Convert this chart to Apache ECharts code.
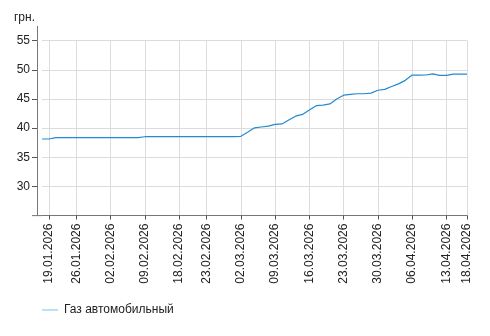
<!DOCTYPE html>
<html><head><meta charset="utf-8">
<script src="https://cdn.jsdelivr.net/npm/echarts@6/dist/echarts.min.js"></script>
<style>html,body{margin:0;padding:0;background:#fff}#c{width:490px;height:336px}</style>
</head><body><div id="c"></div>
<script>
const dates = ['16.01.2026','19.01.2026','20.01.2026','21.01.2026','22.01.2026',
'26.01.2026','27.01.2026','28.01.2026','29.01.2026','30.01.2026',
'02.02.2026','03.02.2026','04.02.2026','05.02.2026','06.02.2026',
'09.02.2026','10.02.2026','11.02.2026','12.02.2026','13.02.2026',
'18.02.2026','19.02.2026','20.02.2026','21.02.2026',
'23.02.2026','24.02.2026','25.02.2026','26.02.2026','27.02.2026',
'02.03.2026','03.03.2026','04.03.2026','05.03.2026','06.03.2026',
'09.03.2026','10.03.2026','11.03.2026','12.03.2026','13.03.2026',
'16.03.2026','17.03.2026','18.03.2026','19.03.2026','20.03.2026',
'23.03.2026','24.03.2026','25.03.2026','26.03.2026','27.03.2026',
'30.03.2026','31.03.2026','01.04.2026','02.04.2026','03.04.2026',
'06.04.2026','07.04.2026','08.04.2026','09.04.2026','10.04.2026',
'13.04.2026','14.04.2026','16.04.2026','18.04.2026'];
const gasPrices = [38.14,38.14,
38.36,38.36,38.36,38.36,38.36,38.36,38.36,38.36,38.36,38.36,38.36,38.36,38.36,
38.53,38.53,38.53,38.53,38.53,38.53,38.53,38.53,38.53,38.53,38.53,38.53,38.53,38.53,38.6,
39.3,40.05,40.2,40.35,40.65,40.72,41.4,42.05,42.35,43.1,43.85,43.95,44.15,45.0,45.65,
45.8,45.9,45.9,46.0,46.5,46.65,47.15,47.6,48.2,
49.1,49.1,49.12,49.3,49.05,49.05,49.28,49.28,49.28];
const tickLabels = ['19.01.2026','26.01.2026','02.02.2026','09.02.2026','18.02.2026','23.02.2026',
'02.03.2026','09.03.2026','16.03.2026','23.03.2026','30.03.2026','06.04.2026','13.04.2026','18.04.2026'];
const seriesName = 'Газ автомобильный';
const unitName = 'грн.';

const show = (i, v) => tickLabels.indexOf(v) >= 0;
const FONT = 'Liberation Sans, Arial, sans-serif';
const chart = echarts.init(document.getElementById('c'), null, {renderer:'canvas'});
chart.setOption({
  animation:false,
  textStyle:{fontFamily:FONT},
  grid:{left:42, right:23, top:40.7, bottom:120.4, containLabel:false},
  legend:{left:37, top:299, icon:'path://M0,0 L16,0 L16,1.2 L0,1.2 Z', itemWidth:16, itemHeight:2,
    textStyle:{fontFamily:FONT, fontSize:12, color:'#222', padding:[0,0,0,1]},
    data:[{name:seriesName, itemStyle:{color:'#8fcdee'}}]},
  xAxis:{type:'category', data:dates, boundaryGap:false,
    axisLine:{lineStyle:{color:'#777', width:1}},
    axisTick:{show:true, interval:show, length:4, lineStyle:{color:'#555'}},
    axisLabel:{interval:show, rotate:90, margin:8, fontFamily:FONT, fontSize:12, color:'#222'},
    splitLine:{show:true, interval:show, lineStyle:{color:'#dcdcdc', width:1}}},
  yAxis:{type:'value', min:25, max:55, interval:5, offset:5,
    name:unitName, nameLocation:'end', nameGap:17,
    nameTextStyle:{fontFamily:FONT, fontSize:12, color:'#222', align:'right', padding:[0,2,0,0]},
    axisLine:{show:true, lineStyle:{color:'#777'}},
    axisTick:{show:true, length:5, lineStyle:{color:'#555'}},
    axisLabel:{margin:7, fontFamily:FONT, fontSize:12, color:'#222', showMinLabel:false},
    splitLine:{lineStyle:{color:'#dcdcdc'}}},
  graphic:[
    {type:'line', shape:{x1:32, y1:215.6, x2:42, y2:215.6}, style:{stroke:'#777', lineWidth:1}},
    {type:'line', shape:{x1:37.5, y1:26, x2:37.5, y2:40.7}, style:{stroke:'#777', lineWidth:1}}
  ],
  series:[{name:seriesName, type:'line', data:gasPrices, symbol:'none',
    lineStyle:{color:'#2389d2', width:1.2}, itemStyle:{color:'#2389d2'}}]
});
</script></body></html>
